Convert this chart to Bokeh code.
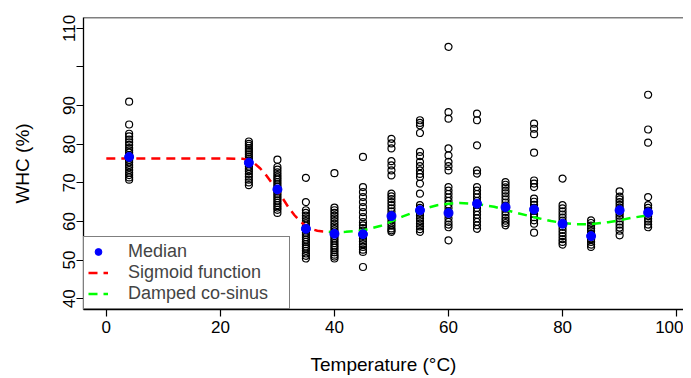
from bokeh.plotting import figure
from bokeh.models import Range1d, FixedTicker, Legend, LegendItem, Span
from bokeh.embed import file_html
from bokeh.resources import INLINE

# ---- data ----
temps = [4, 25, 30, 35, 40, 45, 50, 55, 60, 65, 70, 75, 80, 85, 90, 95]

whc_4 = [91.0, 85.1, 82.7, 82.0, 81.2, 80.5, 79.8, 79.0, 78.4, 77.8, 77.2, 76.8, 76.4, 75.9, 75.3, 74.6, 74.0, 73.3, 72.6, 72.0, 71.4, 70.8]
whc_25 = [80.7, 80.1, 79.6, 79.0, 78.5, 78.0, 77.4, 76.8, 76.3, 75.8, 75.3, 74.8, 74.2, 73.6, 73.0, 72.3, 71.6, 70.8, 70.1, 69.4]
whc_30 = [76.0, 74.1, 73.4, 72.7, 72.0, 71.4, 70.8, 70.2, 69.6, 69.0, 68.4, 67.8, 67.2, 66.6, 66.0, 65.4, 64.8, 64.2, 63.6, 63.0, 62.2]
whc_35 = [71.3, 65.0, 62.9, 62.2, 61.5, 60.8, 60.1, 59.5, 58.9, 58.3, 57.7, 57.1, 56.5, 55.9, 55.3, 54.7, 54.1, 53.5, 53.0, 52.4, 51.7, 51.1, 50.4]
whc_40 = [72.5, 63.6, 62.9, 62.2, 61.5, 60.8, 60.1, 59.4, 58.7, 58.0, 57.4, 56.8, 56.2, 55.6, 55.0, 54.4, 53.8, 53.2, 52.6, 52.0, 51.4, 50.9, 50.4]
whc_45 = [76.7, 68.9, 67.6, 66.3, 65.0, 63.7, 62.4, 61.1, 59.8, 59.0, 58.3, 57.6, 56.9, 56.2, 55.5, 54.8, 54.1, 53.4, 52.7, 52.1, 48.2]
whc_50 = [81.4, 80.2, 78.9, 75.6, 74.5, 73.2, 71.9, 67.2, 66.5, 65.8, 65.0, 64.2, 63.4, 62.6, 61.8, 61.0, 60.3, 59.6, 58.9, 58.2, 57.7, 57.3]
whc_55 = [86.2, 85.5, 84.9, 82.9, 78.0, 76.9, 75.4, 74.3, 73.2, 72.3, 71.5, 69.8, 67.2, 64.2, 63.5, 62.9, 62.2, 61.5, 60.8, 60.1, 59.4, 58.7, 58.0, 57.3]
whc_60 = [105.2, 88.3, 86.6, 78.9, 77.1, 75.4, 74.3, 73.2, 68.9, 68.0, 67.1, 66.2, 65.3, 64.4, 63.5, 62.6, 61.7, 60.8, 59.9, 59.2, 58.5, 55.1]
whc_65 = [87.9, 86.2, 79.7, 73.2, 72.4, 68.9, 68.0, 67.1, 66.2, 65.3, 64.4, 63.5, 62.6, 61.7, 60.8, 59.9, 59.0, 58.1]
whc_70 = [70.2, 69.5, 68.8, 68.0, 67.3, 66.5, 65.7, 64.9, 64.1, 63.3, 62.5, 61.7, 60.9, 60.2, 59.6, 59.0]
whc_75 = [85.3, 84.0, 82.6, 77.8, 70.6, 69.8, 68.9, 65.9, 65.1, 64.3, 63.5, 62.7, 61.9, 61.1, 60.3, 59.4, 57.1]
whc_80 = [71.1, 64.2, 63.4, 62.6, 61.8, 61.0, 60.2, 59.4, 58.6, 57.8, 57.0, 56.2, 55.4, 54.7, 54.0]
whc_85 = [60.3, 59.6, 58.9, 58.2, 57.5, 56.8, 56.1, 55.4, 54.7, 54.0, 53.4]
whc_90 = [67.8, 66.4, 65.7, 65.0, 64.3, 63.6, 62.9, 62.2, 61.5, 60.8, 60.0, 59.2, 58.4, 57.6, 56.4]
whc_95 = [92.8, 83.8, 80.4, 66.3, 64.2, 63.5, 62.8, 62.1, 61.4, 60.7, 60.0, 59.2, 58.5]

median_whc = [76.7, 75.2, 68.3, 58.1, 56.8, 56.7, 61.4, 62.9, 62.2, 64.6, 63.7, 63.1, 59.4, 56.2, 62.9, 62.3]

sigmoid_t = [0, 10, 20, 24, 25, 26, 27, 28, 29, 30, 31, 32, 33, 34, 35, 36, 37, 38, 39]
sigmoid_whc = [76.3, 76.3, 76.3, 76.2, 75.9, 75.0, 73.7, 72.0, 70.0, 68.0, 65.8, 63.5, 61.6, 60.0, 58.8, 58.0, 57.6, 57.4, 57.3]

cosine_t = [39, 40, 42, 45, 48, 50, 52, 55, 58, 60, 62, 65, 68, 70, 72, 75, 78, 80, 82, 85, 88, 90, 92, 95]
cosine_whc = [57.3, 57.2, 57.3, 57.7, 58.8, 60.0, 61.3, 63.0, 64.2, 64.6, 64.8, 64.5, 63.8, 63.0, 62.2, 61.1, 60.1, 59.6, 59.3, 59.3, 59.8, 60.3, 60.9, 61.6]

x_ticks = [0, 20, 40, 60, 80, 100]
y_ticks = [40, 50, 60, 70, 80, 90, 100, 110]

groups = [whc_4, whc_25, whc_30, whc_35, whc_40, whc_45, whc_50, whc_55,
          whc_60, whc_65, whc_70, whc_75, whc_80, whc_85, whc_90, whc_95]
pts_x, pts_y = [], []
for t, vals in zip(temps, groups):
    pts_x += [t] * len(vals)
    pts_y += vals

FONT = "Liberation Sans"

p = figure(width=683, height=378,
           x_range=Range1d(-4, 101.2), y_range=Range1d(37.2, 112.8),
           output_backend="svg", toolbar_location=None,
           min_border_left=83, min_border_right=0, min_border_top=17, min_border_bottom=69)
p.outline_line_color = None
p.grid.visible = False
p.background_fill_color = "white"
p.border_fill_color = "white"

p.scatter(pts_x, pts_y, marker="circle", size=7, fill_color=None,
          line_color="black", line_width=1.2)
sig = p.line(sigmoid_t, sigmoid_whc, line_color="#FF0000", line_width=2.5, line_dash="9 6")
cos = p.line(cosine_t, cosine_whc, line_color="#00FF00", line_width=2.5, line_dash="9 6")
med = p.scatter(temps, median_whc, marker="circle", size=9, fill_color="#0000FF",
                line_color="#0000FF")

# top border
p.add_layout(Span(location=112.8, dimension="width", line_color="black", line_width=1.3))

for ax in (p.xaxis[0], p.yaxis[0]):
    ax.axis_line_color = "black"
    ax.axis_line_width = 1.3
    ax.major_tick_line_color = "black"
    ax.major_tick_line_width = 1.2
    ax.major_tick_out = 7
    ax.major_tick_in = 0
    ax.minor_tick_line_color = None
    ax.major_label_text_font = FONT
    ax.major_label_text_font_size = "17px"
    ax.major_label_text_color = "black"
    ax.axis_label_text_font = FONT
    ax.axis_label_text_font_size = "19px"
    ax.axis_label_text_font_style = "normal"
    ax.axis_label_text_color = "black"

p.xaxis.ticker = FixedTicker(ticks=x_ticks)
p.yaxis.ticker = FixedTicker(ticks=y_ticks)
p.yaxis.major_label_overrides = {100: ""}
p.yaxis.major_label_orientation = "vertical"
p.xaxis.major_label_standoff = 4
p.yaxis.major_label_standoff = 1
p.xaxis.axis_label = "Temperature (°C)"
p.yaxis.axis_label = "WHC (%)"
p.xaxis.axis_label_standoff = 18
p.yaxis.axis_label_standoff = 28

legend = Legend(items=[LegendItem(label="Median", renderers=[med]),
                       LegendItem(label="Sigmoid function", renderers=[sig]),
                       LegendItem(label="Damped co-sinus", renderers=[cos])],
                location="bottom_left", margin=0, padding=4, spacing=0,
                glyph_width=20, glyph_height=17, label_height=17, label_standoff=20,
                label_width=157,
                label_text_font=FONT, label_text_font_size="18px",
                border_line_color="black", border_line_width=1.3,
                background_fill_color="white", background_fill_alpha=1.0)
p.add_layout(legend)

open("out.html", "w").write(file_html(p, INLINE))
